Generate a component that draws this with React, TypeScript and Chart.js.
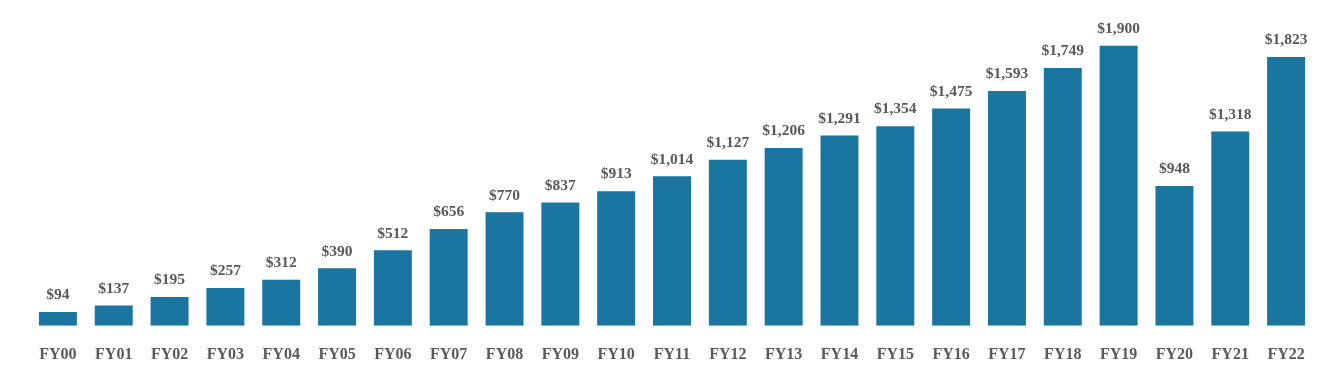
import React, { useEffect, useRef } from "react";
import { Chart, registerables } from "chart.js";

Chart.register(...registerables);

const categories = ["FY00","FY01","FY02","FY03","FY04","FY05","FY06","FY07","FY08","FY09","FY10","FY11","FY12","FY13","FY14","FY15","FY16","FY17","FY18","FY19","FY20","FY21","FY22"];
const values = [94,137,195,257,312,390,512,656,770,837,913,1014,1127,1206,1291,1354,1475,1593,1749,1900,948,1318,1823];

const BAR_COLOR = "#1A75A1";
const TEXT_COLOR = "#595959";
const FONT_FAMILY = "'Liberation Serif', 'Times New Roman', serif";

const valueLabels = {
  id: "valueLabels",
  afterDatasetsDraw(chart: any) {
    const ctx = chart.ctx;
    const meta = chart.getDatasetMeta(0);
    ctx.save();
    ctx.font = `bold 15.5px ${FONT_FAMILY}`;
    ctx.fillStyle = TEXT_COLOR;
    ctx.textAlign = "center";
    ctx.textBaseline = "bottom";
    meta.data.forEach((bar: any, i: number) => {
      const v = values[i];
      ctx.fillText("$" + v.toLocaleString("en-US"), bar.x, bar.y - 9);
    });
    ctx.restore();
  },
};

export default function App() {
  const ref = useRef<HTMLCanvasElement>(null);
  useEffect(() => {
    document.body.style.margin = "0";
    const chart = new Chart(ref.current!, {
      type: "bar",
      data: {
        labels: categories,
        datasets: [
          {
            data: values,
            backgroundColor: BAR_COLOR,
            categoryPercentage: 1,
            barPercentage: 0.68,
          },
        ],
      },
      options: {
        animation: false,
        responsive: false,
        maintainAspectRatio: false,
        layout: { padding: { left: 30, right: 28, top: 31, bottom: 15 } },
        plugins: { legend: { display: false }, tooltip: { enabled: false } },
        scales: {
          x: {
            grid: { display: false },
            border: { display: false },
            ticks: {
              color: TEXT_COLOR,
              font: { family: FONT_FAMILY, size: 16, weight: "bold" },
              padding: 11,
              maxRotation: 0,
              autoSkip: false,
            },
          },
          y: {
            display: false,
            min: 0,
            max: 2000,
          },
        },
      },
      plugins: [valueLabels],
    });
    return () => chart.destroy();
  }, []);
  return (
    <div style={{ width: 1342, height: 390 }}>
      <canvas ref={ref} width={1342} height={390} style={{ display: "block" }} />
    </div>
  );
}
